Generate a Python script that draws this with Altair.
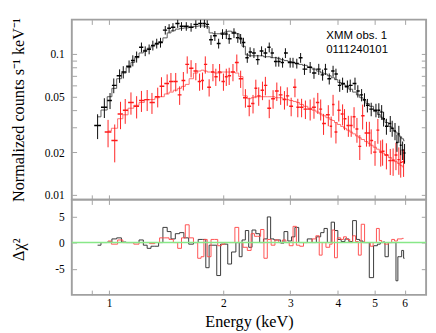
import numpy as np
import pandas as pd
import altair as alt

# ---------------- data ----------------
black_energy = [0.933, 0.972, 1.006, 1.029, 1.066, 1.090, 1.129, 1.155, 1.182, 1.217,
                1.245, 1.275, 1.304, 1.335, 1.366, 1.406, 1.439, 1.473, 1.516, 1.551,
                1.597, 1.644, 1.692, 1.741, 1.782, 1.813, 1.855, 1.899, 1.943, 1.989,
                2.035, 2.071, 2.132, 2.182, 2.220, 2.258, 2.311, 2.351, 2.406, 2.463,
                2.520, 2.579, 2.640, 2.685, 2.748, 2.797, 2.862, 2.912, 2.997, 3.049,
                3.120, 3.193, 3.268, 3.383, 3.462, 3.564, 3.648, 3.711, 3.798, 3.887,
                3.955, 4.047, 4.118, 4.239, 4.313, 4.439, 4.516, 4.621, 4.702, 4.785,
                4.897, 5.040, 5.129, 5.218, 5.279, 5.370, 5.497, 5.561, 5.657, 5.724,
                5.790, 5.857, 5.925, 5.994]
black_rate = [0.0311, 0.0418, 0.0467, 0.0598, 0.0700, 0.0744, 0.0817, 0.0897, 0.0954, 0.1115,
              0.1048, 0.108, 0.115, 0.1187, 0.1205, 0.1475, 0.152, 0.1546, 0.1645, 0.157,
              0.157, 0.1546, 0.162, 0.1645, 0.1645, 0.162, 0.126, 0.1344, 0.1187, 0.1386,
              0.1386, 0.1282, 0.1408, 0.1303, 0.1282, 0.1205, 0.094, 0.1032, 0.1016, 0.0911,
              0.1048, 0.1016, 0.1115, 0.1016, 0.0883, 0.0883, 0.0869, 0.1016, 0.0869, 0.0869,
              0.0856, 0.094, 0.078, 0.0804, 0.0732, 0.078, 0.071, 0.078, 0.0667, 0.0756,
              0.0721, 0.0598, 0.0617, 0.0589, 0.0598, 0.0617, 0.0545, 0.0512, 0.0474, 0.0432,
              0.0406, 0.0399, 0.0399, 0.0387, 0.0347, 0.0307, 0.0321, 0.0297, 0.0284, 0.0235,
              0.0271, 0.0225, 0.0208, 0.0198]
black_err = [0.20, 0.16, 0.13, 0.12, 0.11, 0.10, 0.10, 0.09, 0.09, 0.08,
             0.08, 0.08, 0.08, 0.08, 0.08, 0.07, 0.07, 0.07, 0.07, 0.07,
             0.07, 0.07, 0.07, 0.07, 0.07, 0.07, 0.08, 0.08, 0.08, 0.08,
             0.08, 0.08, 0.08, 0.08, 0.08, 0.08, 0.08, 0.08, 0.08, 0.08,
             0.08, 0.08, 0.08, 0.08, 0.08, 0.08, 0.08, 0.08, 0.08, 0.08,
             0.08, 0.08, 0.09, 0.09, 0.09, 0.09, 0.09, 0.09, 0.09, 0.09,
             0.09, 0.10, 0.10, 0.10, 0.10, 0.10, 0.10, 0.10, 0.11, 0.11,
             0.11, 0.11, 0.12, 0.12, 0.12, 0.13, 0.13, 0.13, 0.14, 0.14,
             0.14, 0.15, 0.15, 0.16]
black_model = [0.0358, 0.040, 0.0497, 0.057, 0.0667, 0.0732, 0.080, 0.087, 0.094, 0.1016,
               0.1064, 0.1098, 0.1133, 0.1168, 0.1224, 0.130, 0.141, 0.146, 0.150, 0.152,
               0.153, 0.155, 0.157, 0.158, 0.158, 0.156, 0.141, 0.139, 0.139, 0.141,
               0.143, 0.145, 0.143, 0.139, 0.130, 0.1133, 0.0985, 0.097, 0.097, 0.097,
               0.097, 0.0955, 0.0955, 0.094, 0.094, 0.0925, 0.091, 0.0897, 0.0883, 0.0869,
               0.0856, 0.0843, 0.083, 0.0804, 0.078, 0.0756, 0.0732, 0.0721, 0.070, 0.0678,
               0.0657, 0.0627, 0.0608, 0.058, 0.0562, 0.0536, 0.0512, 0.0489, 0.0467, 0.0445,
               0.0425, 0.0390, 0.0372, 0.0356, 0.0342, 0.0326, 0.0306, 0.0297, 0.0284, 0.0275,
               0.0266, 0.0258, 0.025, 0.0242]
black_resid = [-0.5, 0, 0.1, 0.7, 0.9, 0.1, 0, 0, 0, 0.5,
               -0.5, -1.1, -0.7, -0.7, 0, 2.9, 2.1, 0.7, 1.7, 1.9,
               0.9, -0.3, 0, 0.6, 0.6, -4.8, -0.5, -0.5, -6.3, -0.3,
               -0.3, -4.1, -1.8, 0, -2.7, 0.5, 2.3, -0.9, 2.4, 1.7,
               0, 0.7, 4.9, 0.7, 0.5, 0.5, -0.1, 2.1, 0.3, 1.1,
               2.9, 0, 0, 0.7, 0, 1.1, 1.9, 2.7, 0, 3.9,
               2.3, 0.6, 0.2, 0.7, 0.2, 4.2, 0.6, 0.3, 0, 0,
               -6.7, -0.6, -0.3, 0, 0.1, -2.7, 0, 0, 0, -7.3,
               -2.7, -2.7, -1.5, -3.0]

red_energy = [0.994, 1.035, 1.072, 1.103, 1.142, 1.182, 1.217, 1.260, 1.297, 1.343,
              1.374, 1.422, 1.455, 1.498, 1.534, 1.569, 1.606, 1.644, 1.692, 1.731,
              1.762, 1.792, 1.834, 1.877, 1.910, 1.954, 2.000, 2.035, 2.071, 2.119,
              2.169, 2.220, 2.285, 2.338, 2.393, 2.434, 2.477, 2.534, 2.579, 2.640,
              2.702, 2.764, 2.829, 2.895, 2.945, 3.015, 3.085, 3.139, 3.212, 3.287,
              3.383, 3.462, 3.543, 3.606, 3.669, 3.776, 3.842, 3.887, 3.955, 4.024,
              4.118, 4.166, 4.264, 4.338, 4.414, 4.492, 4.570, 4.650, 4.759, 4.842,
              4.897, 5.012, 5.099, 5.188, 5.248, 5.370, 5.497, 5.593, 5.690, 5.790,
              5.857, 5.959]
red_rate = [0.0279, 0.0243, 0.0375, 0.0399, 0.0452, 0.0425, 0.0467, 0.0474, 0.0452, 0.0497,
            0.0589, 0.0617, 0.0637, 0.0637, 0.0512, 0.0647, 0.0843, 0.0792, 0.0756, 0.0637,
            0.0647, 0.0843, 0.058, 0.0744, 0.0689, 0.0744, 0.0637, 0.0689, 0.0700, 0.0744,
            0.0869, 0.0667, 0.0489, 0.0425, 0.0445, 0.0571, 0.0504, 0.0553, 0.0598, 0.0412,
            0.0481, 0.0545, 0.0512, 0.0474, 0.0504, 0.0425, 0.058, 0.0418, 0.0418, 0.0406,
            0.0406, 0.0418, 0.0452, 0.0406, 0.0321, 0.0370, 0.0307, 0.0438, 0.0279, 0.0399,
            0.0375, 0.0347, 0.0311, 0.0311, 0.0358, 0.0293, 0.0221, 0.0364, 0.0275, 0.0275,
            0.0243, 0.0201, 0.0288, 0.0201, 0.0204, 0.0192, 0.0175, 0.0175, 0.0192, 0.0178,
            0.0170, 0.0172]
red_err = [0.22, 0.30, 0.22, 0.20, 0.18, 0.18, 0.17, 0.17, 0.17, 0.16,
           0.16, 0.16, 0.15, 0.15, 0.15, 0.15, 0.14, 0.14, 0.14, 0.14,
           0.14, 0.14, 0.14, 0.14, 0.14, 0.14, 0.14, 0.14, 0.14, 0.14,
           0.14, 0.14, 0.15, 0.15, 0.15, 0.15, 0.15, 0.15, 0.15, 0.15,
           0.15, 0.15, 0.15, 0.15, 0.15, 0.15, 0.15, 0.15, 0.15, 0.15,
           0.17, 0.17, 0.17, 0.17, 0.17, 0.17, 0.17, 0.17, 0.17, 0.17,
           0.17, 0.17, 0.17, 0.17, 0.17, 0.20, 0.20, 0.20, 0.20, 0.20,
           0.20, 0.20, 0.20, 0.21, 0.21, 0.21, 0.21, 0.22, 0.22, 0.22,
           0.22, 0.22]
red_model = [0.0284, 0.0297, 0.0347, 0.037, 0.0412, 0.0432, 0.0452, 0.0474, 0.0474, 0.0489,
             0.0497, 0.052, 0.0536, 0.0553, 0.057, 0.0589, 0.0608, 0.0667, 0.0732, 0.0756,
             0.0767, 0.0756, 0.0744, 0.0744, 0.0732, 0.0732, 0.0744, 0.0744, 0.0744, 0.0744,
             0.0732, 0.069, 0.0504, 0.0481, 0.0489, 0.0497, 0.0497, 0.0497, 0.0497, 0.0497,
             0.0497, 0.0489, 0.0489, 0.0481, 0.0474, 0.0467, 0.046, 0.0452, 0.0438, 0.0425,
             0.0412, 0.0399, 0.0387, 0.0375, 0.0364, 0.0353, 0.0342, 0.0337, 0.0326, 0.0316,
             0.0306, 0.0297, 0.0288, 0.0279, 0.0271, 0.0262, 0.0254, 0.0247, 0.0239, 0.0232,
             0.0225, 0.0218, 0.0211, 0.0204, 0.0198, 0.0192, 0.0184, 0.0178, 0.0172, 0.0167,
             0.0162, 0.0158]
red_resid = [0.3, -0.3, 0.5, 0, 0, -0.3, 0, 0, -0.2, 0,
             0.9, 0.9, 0.6, 0, -1.1, 0.9, 3.4, 0.9, 0, -3.0,
             -2.7, 0.6, -2.7, 0.6, 0.6, -0.6, -0.3, 0, 0, 0,
             2.9, 0, -0.9, -1.5, 1.7, 1.2, 1.2, 2.5, -3.0, 0.6,
             -0.5, 0.5, 0, 0.5, 0, -0.6, 3.1, -0.5, -0.7, 0,
             0, 0.7, 1.3, -2.4, 0, -0.9, -0.3, 2.4, -2.9, 0.9,
             0.6, 1.1, 0.6, 0, 1.3, 0.2, -2.4, 3.5, 0, 0,
             -0.7, 0, 2.7, 0.4, 0, -0.3, 0, 0.6, 0.3, 0.7,
             0.7, 0.8]

energy_ticks = [0.9, 1, 2, 3, 4, 5, 6]
rate_ticks = [0.01, 0.02, 0.03, 0.04, 0.05, 0.06, 0.07, 0.08, 0.09, 0.1]
rate_labels = [0.01, 0.02, 0.05, 0.1]
resid_ticks = [-5, 0, 5]
zero_level = [0]
note_text = ["XMM obs. 1", "0111240101"]
note_energy = [3.73, 3.73]
note_rate = [0.1352, 0.1085]


def spectrum(E, y, err, model, resid):
    e = np.asarray(E, float)
    mid = np.sqrt(e[1:] * e[:-1])
    lo = np.concatenate([[e[0] ** 2 / mid[0]], mid])
    hi = np.concatenate([mid, [e[-1] ** 2 / mid[-1]]])
    y = np.asarray(y, float)
    err = np.asarray(err, float)
    return pd.DataFrame({"E": e, "elo": lo, "ehi": hi, "y": y,
                         "ylo": y * (1 - err), "yhi": y * (1 + err),
                         "model": model, "resid": resid})


blk = spectrum(black_energy, black_rate, black_err, black_model, black_resid)
red = spectrum(red_energy, red_rate, red_err, red_model, red_resid)
notes = pd.DataFrame({"E": note_energy, "v": note_rate, "t": note_text})
zero = pd.DataFrame({"r": zero_level})

W, H1, H2 = 372, 189, 100
SERIF = "Liberation Serif"
FRAME = "#a0a0a0"
TL = 5

xs = alt.Scale(type="log", domain=[0.798, 6.83], nice=False)
ys = alt.Scale(type="log", domain=[0.00925, 0.175], nice=False)
rs = alt.Scale(domain=[-10, 8.2], nice=False, zero=False)


def ticks_axis(orient, values, **kw):
    d = dict(orient=orient, values=values, tickSize=TL, offset=-TL, domain=False,
             grid=False, tickColor=FRAME, tickWidth=1, labels=False, title=None)
    d.update(kw)
    return alt.Axis(**d)


lab = dict(labels=True, labelFont=SERIF, labelFontSize=12, labelColor="black",
           titleFont=SERIF, titleFontSize=17, titleFontWeight="normal", titleColor="black")

y_left = ticks_axis("left", rate_ticks, labelPadding=8, format=".2~f",
                    labelExpr="indexof([0.01,0.02,0.05,0.1], datum.value) >= 0 ? datum.label : ''",
                    title="Normalized counts s\u207b\u00b9 keV\u207b\u00b9",
                    titleAngle=-90, titleBaseline="alphabetic", titleAlign="center",
                    titleX=-56, titleY=H1 / 2, **lab)
r_left = ticks_axis("left", resid_ticks, labelPadding=8,
                    labelExpr="datum.value < 0 ? '-' + abs(datum.value) : datum.label",
                    title="\u0394\u03c7\u00b2",
                    titleAngle=-90, titleBaseline="alphabetic", titleAlign="center",
                    titleX=-56, titleY=H2 / 2 + 2, **lab)
x_bottom = ticks_axis("bottom", energy_ticks, labelPadding=3, format="~g",
                      labelExpr="datum.value < 0.95 ? '' : datum.label",
                      title="Energy (keV)", titleBaseline="top", titleY=25, titleX=W / 2,
                      **lab)

# ---------------- top panel ----------------
m_b = alt.Chart(blk).mark_line(interpolate="step", color="#555555", strokeWidth=1, clip=True).encode(
    x=alt.X("E:Q", scale=xs, axis=ticks_axis("bottom", energy_ticks)),
    y=alt.Y("model:Q", scale=ys, axis=y_left))
m_r = alt.Chart(red).mark_line(interpolate="step", color="#ff6a6a", strokeWidth=1, clip=True).encode(
    x=alt.X("E:Q", scale=xs, axis=ticks_axis("top", energy_ticks)),
    y=alt.Y("model:Q", scale=ys, axis=ticks_axis("right", rate_ticks)))


def bars(df, color):
    v = alt.Chart(df).mark_rule(color=color, strokeWidth=1, clip=True).encode(
        x=alt.X("E:Q", scale=xs, axis=None),
        y=alt.Y("ylo:Q", scale=ys, axis=None), y2="yhi:Q")
    h = alt.Chart(df).mark_rule(color=color, strokeWidth=1.5, clip=True).encode(
        x=alt.X("elo:Q", scale=xs, axis=None), x2="ehi:Q",
        y=alt.Y("y:Q", scale=ys, axis=None))
    return [v, h]


txt = alt.Chart(notes).mark_text(font="Liberation Sans", fontSize=12, align="left",
                                 baseline="middle", color="black").encode(
    x=alt.X("E:Q", scale=xs, axis=None), y=alt.Y("v:Q", scale=ys, axis=None), text="t:N")

top = alt.layer(m_b, m_r, *bars(red, "#ff1a1a"), *bars(blk, "black"), txt).resolve_axis(
    x="independent", y="independent").properties(width=W, height=H1)

# ---------------- residual panel ----------------
r_b = alt.Chart(blk).mark_line(interpolate="step", color="#333333", strokeWidth=1).encode(
    x=alt.X("E:Q", scale=xs, axis=x_bottom),
    y=alt.Y("resid:Q", scale=rs, axis=r_left))
r_r = alt.Chart(red).mark_line(interpolate="step", color="#ff4d4d", strokeWidth=1).encode(
    x=alt.X("E:Q", scale=xs, axis=ticks_axis("top", energy_ticks)),
    y=alt.Y("resid:Q", scale=rs, axis=ticks_axis("right", resid_ticks)))
z = alt.Chart(zero).mark_rule(color="#88e888", strokeWidth=1.5).encode(
    y=alt.Y("r:Q", scale=rs, axis=None))

bottom = alt.layer(r_b, r_r, z).resolve_axis(
    x="independent", y="independent").properties(width=W, height=H2)

chart = alt.vconcat(top, bottom, spacing=0, bounds="flush").properties(
    padding=0, background="white").configure_view(stroke=FRAME, strokeWidth=2)

chart.save("out.html", embed_options={"renderer": "svg", "actions": False})
